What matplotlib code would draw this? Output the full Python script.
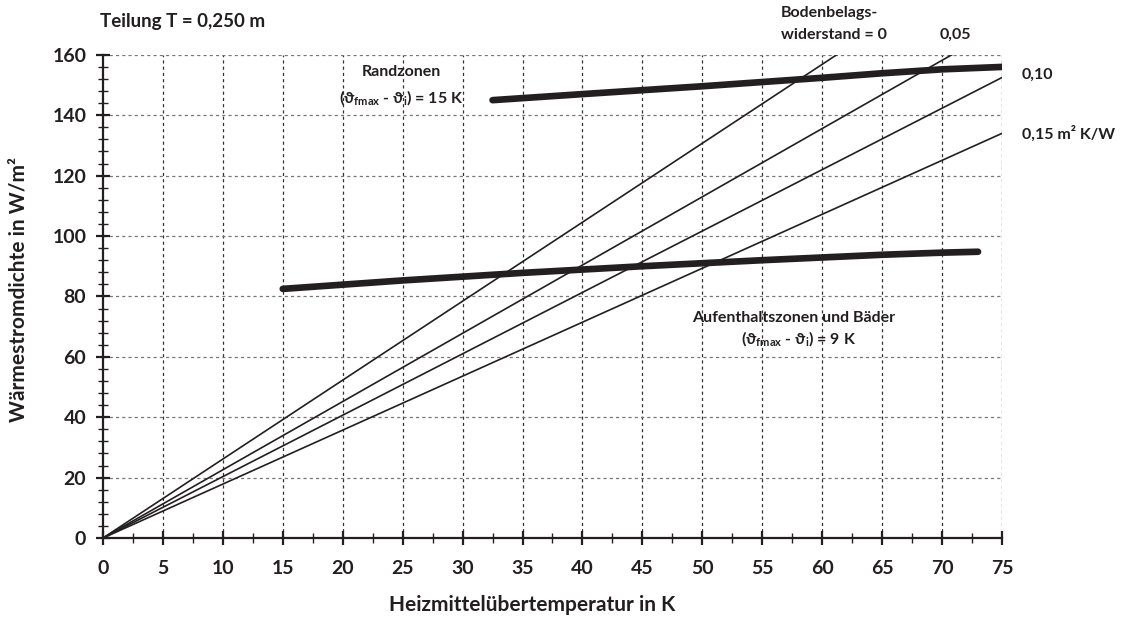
import numpy as np
import matplotlib.pyplot as plt
from matplotlib.ticker import MultipleLocator

# Bodenbelagswiderstand lines (straight from origin), end points
r_labels = ["0", "0,05", "0,10", "0,15"]
r_x_end = [61.2, 70.8, 75.0, 75.0]
r_y_end = [160.0, 160.0, 152.5, 134.0]

# Randzonen limit curve (thick)
rand_x = [32.5, 40, 50, 60, 65, 70, 75]
rand_y = [145.0, 147.0, 149.6, 152.4, 153.9, 155.2, 156.0]

# Aufenthaltszonen und Baeder limit curve (thick)
auf_x = [15, 25, 35, 45, 50, 55, 65, 70, 73]
auf_y = [82.5, 85.3, 87.8, 90.0, 91.0, 92.0, 93.8, 94.5, 94.8]

x_ticks = list(range(0, 80, 5))
y_ticks = list(range(0, 180, 20))

plt.rcParams["font.family"] = ["Lato", "DejaVu Sans"]
plt.rcParams["mathtext.fontset"] = "custom"
plt.rcParams["mathtext.rm"] = "Lato:bold"
plt.rcParams["mathtext.it"] = "Lato:bold"
plt.rcParams["mathtext.bf"] = "Lato:bold"

ink = "#231f20"
W, H = 1134, 617

fig = plt.figure(figsize=(11.34, 6.17), dpi=100)
ax = fig.add_axes([0.0908, 0.128, 0.7928, 0.7831])

ax.set_xlim(0, 75)
ax.set_ylim(0, 160)

# grid: vertical darker, horizontal grey, short dashes
for xv in x_ticks[1:]:
    ax.axvline(xv, color="#333333", lw=0.9, ls=(0, (2.5, 2.5)), zorder=1)
for yv in y_ticks[1:]:
    ax.axhline(yv, color="#777777", lw=0.9, ls=(0, (2.5, 2.5)), zorder=1)

for xe, ye in zip(r_x_end, r_y_end):
    ax.plot([0, xe], [0, ye], color=ink, lw=1.2, zorder=3)

ax.plot(rand_x, rand_y, color=ink, lw=4.8, solid_capstyle="round", zorder=4)
ax.plot(auf_x, auf_y, color=ink, lw=4.8, solid_capstyle="round", zorder=4)

for s in ["top", "right"]:
    ax.spines[s].set_visible(False)
for s in ["left", "bottom"]:
    ax.spines[s].set_color(ink)
    ax.spines[s].set_linewidth(1.6)

ax.set_xticks(x_ticks)
ax.set_yticks(y_ticks)
ax.xaxis.set_minor_locator(MultipleLocator(2.5))
ax.yaxis.set_minor_locator(MultipleLocator(4))
ax.tick_params(which="major", direction="inout", length=10, width=1.6, color=ink,
               labelsize=14, labelcolor=ink)
ax.tick_params(axis="x", which="major", pad=11)
ax.tick_params(axis="y", which="major", pad=7)
ax.tick_params(which="minor", direction="inout", length=7, width=1.0, color=ink)
for lab in ax.get_xticklabels() + ax.get_yticklabels():
    lab.set_fontweight("bold")

# axis titles placed in figure pixels
fig.text(532 / W, 1 - 605 / H, "Heizmittelübertemperatur in K", fontsize=15,
         fontweight="bold", color=ink, ha="center", va="center")
fig.text(19 / W, 1 - 290 / H, "Wärmestromdichte in W/m²", fontsize=15,
         fontweight="bold", color=ink, ha="center", va="center", rotation=90)

fig.text(100 / W, 1 - 22 / H, "Teilung T = 0,250 m", fontsize=13.5,
         fontweight="bold", color=ink, va="center", ha="left")

# resistance labels
fig.text(781 / W, 1 - 13 / H, "Bodenbelags-", fontsize=11.5, fontweight="bold",
         color=ink, va="center", ha="left")
fig.text(781 / W, 1 - 35 / H, "widerstand = " + r_labels[0], fontsize=11.5,
         fontweight="bold", color=ink, va="center", ha="left")
fig.text(940 / W, 1 - 35 / H, r_labels[1], fontsize=11.5, fontweight="bold",
         color=ink, va="center", ha="left")
fig.text(1022 / W, 1 - 75 / H, r_labels[2], fontsize=11.5, fontweight="bold",
         color=ink, va="center", ha="left")
fig.text(1022 / W, 1 - 134 / H, r_labels[3] + " m² K/W", fontsize=11.5,
         fontweight="bold", color=ink, va="center", ha="left")

# zone labels
ax.text(24.9, 154.3, "Randzonen", fontsize=11.5, fontweight="bold", color=ink,
        ha="center", va="center")
ax.text(24.9, 146.0, r"($\vartheta_{\mathrm{fmax}}$ - $\vartheta_{\mathrm{i}}$) = 15 K",
        fontsize=11.5, fontweight="bold", color=ink, ha="center", va="center")
ax.text(57.6, 72.8, "Aufenthaltszonen und Bäder", fontsize=11.5, fontweight="bold",
        color=ink, ha="center", va="center")
ax.text(58.0, 66.2, r"($\vartheta_{\mathrm{fmax}}$ - $\vartheta_{\mathrm{i}}$) = 9 K",
        fontsize=11.5, fontweight="bold", color=ink, ha="center", va="center")

fig.savefig("out.png", dpi=100, facecolor="white")
